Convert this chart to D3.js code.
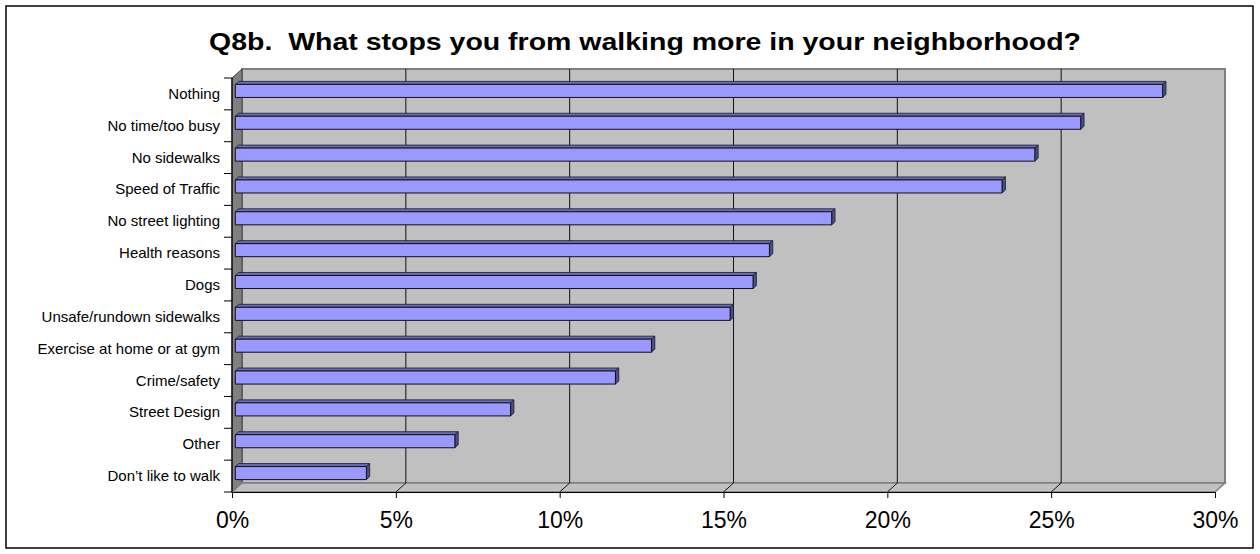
<!DOCTYPE html>
<html><head><meta charset="utf-8">
<script src="https://cdn.jsdelivr.net/npm/d3@7"></script>
<style>body{margin:0;background:#fff}svg{display:block}text{font-family:"Liberation Sans",Arial,sans-serif}</style>
</head><body>
<svg id="c" width="1260" height="554"></svg>
<script>
const categories = ["Nothing","No time/too busy","No sidewalks","Speed of Traffic","No street lighting","Health reasons","Dogs","Unsafe/rundown sidewalks","Exercise at home or at gym","Crime/safety","Street Design","Other","Don’t like to walk"];
const values = [28.3,25.8,24.4,23.4,18.2,16.3,15.8,15.1,12.7,11.6,8.4,6.7,4.0];
const tickValues = [0,5,10,15,20,25,30];
const titleText = "Q8b.  What stops you from walking more in your neighborhood?";

(function(){
const svg = d3.select("#c");
const DX = 10, DY = -9; // depth offset
const x = d3.scaleLinear().domain([0,30]).range([232,1215]);
const yStep = d3.scaleBand().domain(categories).range([78,492]).padding(0);
const y = d3.scaleBand().domain(categories).range([78,492]).paddingInner(0.59).paddingOuter(0.295);
const yTop = 78, yBot = 492, xL = x(0), xR = x(30);
const P = (px,py,t)=>[px+DX*t, py+DY*t];
const poly = pts => pts.map(p=>p.join(",")).join(" ");

// border
svg.append("rect").attr("x",6).attr("y",6).attr("width",1247).attr("height",542)
  .attr("fill","#fff").attr("stroke","#000").attr("stroke-width",1.5);

// back wall
svg.append("polygon").attr("points",poly([P(xL,yTop,1),P(xR,yTop,1),P(xR,yBot,1),P(xL,yBot,1)]))
  .attr("fill","#c0c0c0").attr("stroke","#808080").attr("stroke-width",2);
// left wall
svg.append("polygon").attr("points",poly([[xL,yTop],P(xL,yTop,1),P(xL,yBot,1),[xL,yBot]]))
  .attr("fill","#808080").attr("stroke","#404040").attr("stroke-width",1);
// floor
svg.append("polygon").attr("points",poly([[xL,yBot],P(xL,yBot,1),P(xR,yBot,1),[xR,yBot]]))
  .attr("fill","#c0c0c0").attr("stroke","#808080").attr("stroke-width",1.5);

// gridlines
const g = svg.append("g");
tickValues.filter(v=>v>0 && v<30).forEach(v=>{
  const a=P(x(v),yTop,1), b=P(x(v),yBot,1);
  g.append("polyline").attr("points",poly([a,b,[x(v),yBot]]))
    .attr("fill","none").attr("stroke","#111").attr("stroke-width",1);
});

// bars
const bars = svg.append("g");
categories.forEach((c,i)=>{
  const v = values[i];
  const y0 = y(c), h = y.bandwidth();
  const x0 = x(0), x1 = x(v);
  const f1=P(x0,y0,1/3), f2=P(x1,y0,1/3), f3=P(x1,y0+h,1/3), f4=P(x0,y0+h,1/3);
  const b1=P(x0,y0,2/3), b2=P(x1,y0,2/3), b3=P(x1,y0+h,2/3);
  bars.append("polygon").attr("points",poly([f1,b1,b2,f2])).attr("fill","#6b6bb3").attr("stroke","#1a1a33").attr("stroke-width",0.8);
  bars.append("polygon").attr("points",poly([f2,b2,b3,f3])).attr("fill","#4d4d85").attr("stroke","#1a1a33").attr("stroke-width",0.8);
  bars.append("polygon").attr("points",poly([f1,f2,f3,f4])).attr("fill","#9999ff").attr("stroke","#111").attr("stroke-width",1);
});

// left axis
const la = svg.append("g");
la.append("line").attr("x1",xL).attr("x2",xL).attr("y1",yTop).attr("y2",yBot).attr("stroke","#000").attr("stroke-width",1.2);
const bounds = categories.map(c=>yStep(c)).concat([yBot]);
bounds.forEach(b=>la.append("line").attr("x1",xL-8).attr("x2",xL).attr("y1",b).attr("y2",b).attr("stroke","#000").attr("stroke-width",1));
categories.forEach(c=>{
  la.append("text").attr("x",220).attr("y",yStep(c)+yStep.bandwidth()/2+1)
    .attr("text-anchor","end").attr("dominant-baseline","middle")
    .attr("font-size",15).attr("fill","#000").text(c);
});

// bottom axis
const ax = svg.append("g").attr("transform",`translate(0,${yBot})`)
  .call(d3.axisBottom(x).tickValues(tickValues).tickFormat(d=>d+"%").tickSize(6).tickSizeOuter(0));
ax.select(".domain").attr("stroke","#000").attr("stroke-width",1.2);
ax.selectAll(".tick line").attr("stroke","#000");
ax.selectAll(".tick text").attr("font-size",23).attr("font-family","Liberation Sans, Arial, sans-serif")
  .attr("fill","#000").attr("y",20).attr("dy","0.71em");

// title
svg.append("text").attr("x",209).attr("y",50).attr("text-anchor","start")
  .style("white-space","pre")
  .attr("textLength",872).attr("lengthAdjust","spacingAndGlyphs")
  .attr("font-size",24).attr("font-weight","bold").attr("fill","#000").text(titleText);
})();
</script>
</body></html>
